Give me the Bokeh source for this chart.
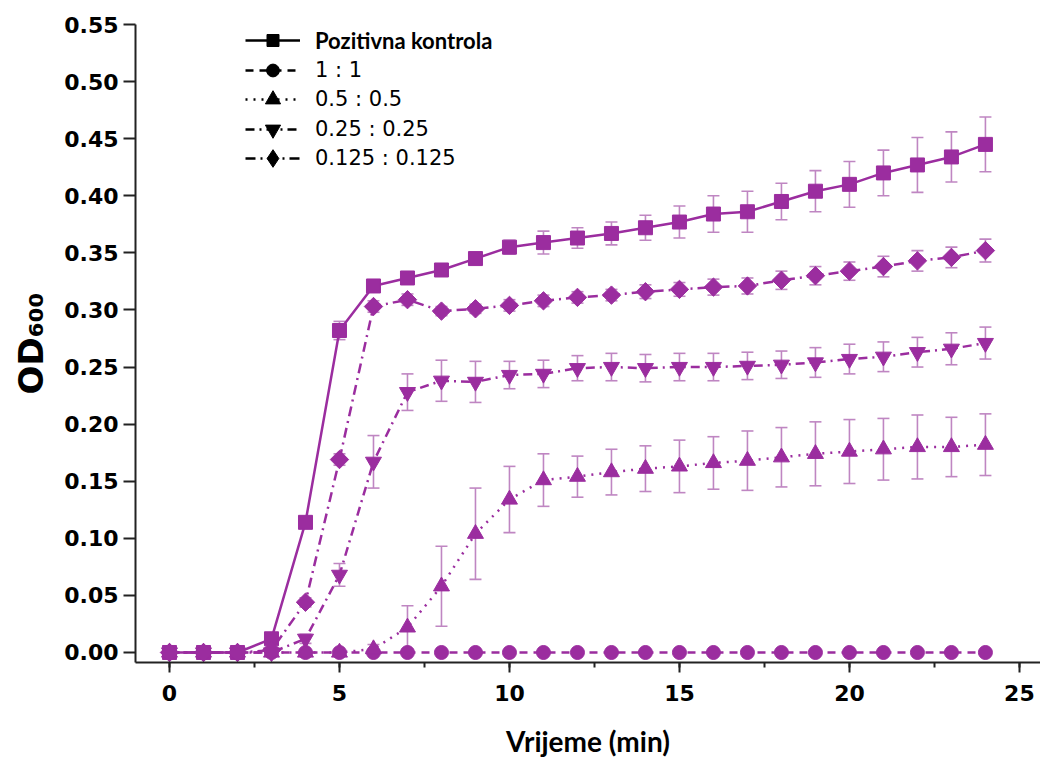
import numpy as np
from bokeh.plotting import figure
from bokeh.models import (ColumnDataSource, Whisker, TeeHead, Legend, LegendItem,
                          SingleIntervalTicker, PrintfTickFormatter, Range1d)
from bokeh.embed import file_html
from bokeh.resources import INLINE

# ---------------- data ----------------
time_min = list(range(25))
x_ticks_interval = 5
y_ticks_interval = 0.05

pos_ctrl = [0, 0, 0, 0.012, 0.114, 0.282, 0.321, 0.328, 0.335, 0.345, 0.355, 0.359, 0.363,
            0.367, 0.372, 0.377, 0.384, 0.386, 0.395, 0.404, 0.410, 0.420, 0.427, 0.434, 0.445]
pos_ctrl_err = [0.002, 0.002, 0.002, 0.004, 0.004, 0.008, 0.005, 0.005, 0.004, 0.004, 0.006, 0.010, 0.009,
                0.010, 0.011, 0.014, 0.016, 0.018, 0.016, 0.018, 0.020, 0.020, 0.024, 0.022, 0.024]

r_1_1 = [0.0] * 25
r_1_1_err = [0.001] * 25

r_05 = [0, 0, 0, 0, 0, 0, 0.003, 0.022, 0.058, 0.104, 0.134, 0.151, 0.154,
        0.158, 0.161, 0.163, 0.166, 0.168, 0.171, 0.174, 0.176, 0.178, 0.180, 0.180, 0.182]
r_05_err = [0, 0, 0, 0, 0, 0, 0.004, 0.019, 0.035, 0.040, 0.029, 0.023, 0.018,
            0.020, 0.020, 0.023, 0.023, 0.026, 0.026, 0.028, 0.028, 0.027, 0.028, 0.026, 0.027]

r_025 = [0, 0, 0, 0, 0.012, 0.068, 0.167, 0.228, 0.238, 0.237, 0.243, 0.244, 0.249,
         0.250, 0.249, 0.250, 0.250, 0.251, 0.252, 0.254, 0.257, 0.259, 0.263, 0.266, 0.271]
r_025_err = [0, 0, 0, 0, 0.004, 0.010, 0.023, 0.016, 0.018, 0.018, 0.012, 0.012, 0.011,
             0.012, 0.012, 0.012, 0.012, 0.012, 0.012, 0.013, 0.013, 0.013, 0.013, 0.014, 0.014]

r_0125 = [0, 0, 0, 0.002, 0.044, 0.169, 0.303, 0.309, 0.299, 0.301, 0.304, 0.308, 0.311,
          0.313, 0.316, 0.318, 0.320, 0.321, 0.326, 0.330, 0.334, 0.338, 0.343, 0.346, 0.352]
r_0125_err = [0, 0, 0, 0.002, 0.004, 0.005, 0.005, 0.005, 0.004, 0.004, 0.005, 0.005, 0.005,
              0.005, 0.006, 0.006, 0.007, 0.007, 0.008, 0.008, 0.008, 0.009, 0.009, 0.009, 0.010]

labels = ["Pozitivna kontrola", "1 : 1", "0.5 : 0.5", "0.25 : 0.25", "0.125 : 0.125"]

# ---------------- styles ----------------
PURPLE = "#9b2d9f"
ERRC = "#bf86c2"

# (values, errors, marker, size, angle, dash, legend marker, legend glyph height, legend row centre px)
series = [
    (pos_ctrl, pos_ctrl_err, "square", 14, 0.0, "solid", "square", 30, 40),
    (r_1_1, r_1_1_err, "circle", 14, 0.0, "8 6", "circle", 32, 70),
    (r_05, r_05_err, "triangle", 16, 0.0, "2 6", "triangle", 38, 99),
    (r_025, r_025_err, "inverted_triangle", 16, 0.0, "9 5 2 5", "inverted_triangle", 38, 128.5),
    (r_0125, r_0125_err, "square", 13, np.pi / 4, "10 5 2 5", "diamond", 44, 158),
]

FRAME_TOP = 24
FRAME_H = 638

p = figure(frame_width=905, frame_height=FRAME_H,
           x_range=Range1d(-1.0, 25.62), y_range=Range1d(-0.00876, 0.55),
           output_backend="svg", toolbar_location=None,
           min_border_left=135, min_border_right=0, min_border_top=FRAME_TOP, min_border_bottom=80)
p.xgrid.visible = False
p.ygrid.visible = False
p.outline_line_color = None
p.background_fill_color = "white"

# error bars
for vals, errs, *_ in series:
    v = np.array(vals, dtype=float)
    e = np.array(errs, dtype=float)
    src = ColumnDataSource(dict(x=time_min, upper=v + e, lower=v - e))
    w = Whisker(source=src, base="x", upper="upper", lower="lower",
                line_color=ERRC, line_width=1.6, level="underlay",
                upper_head=TeeHead(size=12, line_color=ERRC, line_width=1.6),
                lower_head=TeeHead(size=12, line_color=ERRC, line_width=1.6))
    p.add_layout(w)

# lines and markers
for vals, errs, marker, size, ang, dash, *_ in series:
    src = ColumnDataSource(dict(x=time_min, y=vals))
    p.line("x", "y", source=src, line_color=PURPLE, line_width=2.5, line_dash=dash)
    p.scatter("x", "y", source=src, marker=marker, size=size, angle=ang,
              fill_color=PURPLE, line_color=PURPLE)

# legend (black samples), one single-item legend per row
for i, ((vals, errs, marker, size, ang, dash, lmarker, gh, cy), lab) in enumerate(zip(series, labels)):
    nan_src = ColumnDataSource(dict(x=[np.nan], y=[np.nan]))
    lr = p.line("x", "y", source=nan_src, line_color="black", line_width=2.5, line_dash=dash)
    sr = p.scatter("x", "y", source=nan_src, marker=lmarker, size=size,
                   fill_color="black", line_color="black")
    bottom_px = cy + gh / 2.0
    vy = (FRAME_TOP + FRAME_H) - bottom_px
    if i == 0:
        font, style, fsize = "Lato", "bold", "22px"
    else:
        font, style, fsize = "DejaVu Sans", "normal", "21px"
    leg = Legend(items=[LegendItem(label=lab, renderers=[lr, sr])], location=(110, vy),
                 glyph_width=55, glyph_height=gh, label_height=30, spacing=0, padding=0, margin=0,
                 label_standoff=15, border_line_alpha=0, background_fill_alpha=0,
                 label_text_color="black", label_text_font=font,
                 label_text_font_style=style, label_text_font_size=fsize)
    p.add_layout(leg)

# axes
for ax in (p.xaxis[0], p.yaxis[0]):
    ax.axis_line_color = "#222222"
    ax.axis_line_width = 2
    ax.major_tick_line_color = "#222222"
    ax.major_tick_line_width = 2
    ax.minor_tick_line_color = "#222222"
    ax.minor_tick_line_width = 2
    ax.major_tick_in = 0
    ax.minor_tick_in = 0
    ax.major_label_text_font = "DejaVu Sans"
    ax.major_label_text_font_style = "bold"
    ax.major_label_text_font_size = "22px"
    ax.major_label_text_color = "black"

p.xaxis.ticker = SingleIntervalTicker(interval=x_ticks_interval, num_minor_ticks=2)
p.xaxis.major_tick_out = 10
p.xaxis.minor_tick_out = 5
p.xaxis.major_label_standoff = 12
p.xaxis.axis_label = "Vrijeme (min)"
p.xaxis.axis_label_text_font = "Lato"
p.xaxis.axis_label_text_font_style = "bold"
p.xaxis.axis_label_text_font_size = "28px"
p.xaxis.axis_label_text_color = "black"
p.xaxis.axis_label_standoff = 20

p.yaxis.ticker = SingleIntervalTicker(interval=y_ticks_interval, num_minor_ticks=0)
p.yaxis.formatter = PrintfTickFormatter(format="%.2f")
p.yaxis.major_tick_out = 12
p.yaxis.major_label_standoff = 5
p.yaxis.axis_label = "OD\u2086\u2080\u2080"
p.yaxis.axis_label_text_font = "DejaVu Sans"
p.yaxis.axis_label_text_font_style = "bold"
p.yaxis.axis_label_text_font_size = "34px"
p.yaxis.axis_label_text_color = "black"
p.yaxis.axis_label_standoff = 10

open("out.html", "w").write(file_html(p, INLINE))
